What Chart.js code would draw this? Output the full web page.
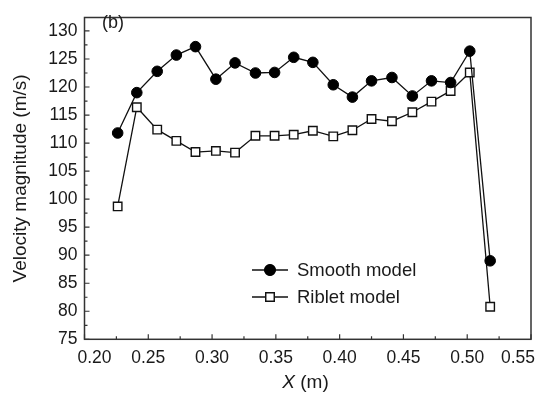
<!DOCTYPE html>
<html>
<head>
<meta charset="utf-8">
<script src="https://cdn.jsdelivr.net/npm/chart.js@4.4.1/dist/chart.umd.min.js"></script>
<style>
  html, body { margin: 0; padding: 0; background: #fff; }
  #wrap { width: 543px; height: 394px; }
</style>
</head>
<body>
<div id="wrap"><canvas id="velocityChart" width="543" height="394"></canvas></div>
<script>
// Values
const xPositions = [0.226, 0.241, 0.257, 0.272, 0.287, 0.303, 0.318, 0.334, 0.349, 0.364,
                    0.379, 0.395, 0.410, 0.425, 0.441, 0.457, 0.472, 0.487, 0.502, 0.518];
const smoothModel = [111.8, 119.0, 122.8, 125.7, 127.2, 121.4, 124.3, 122.5, 122.6, 125.3,
                     124.4, 120.4, 118.2, 121.1, 121.7, 118.4, 121.1, 120.8, 126.4, 89.0];
const ribletModel = [98.7, 116.4, 112.4, 110.4, 108.4, 108.6, 108.3, 111.3, 111.3, 111.5,
                     112.2, 111.2, 112.3, 114.3, 113.9, 115.5, 117.4, 119.3, 122.6, 80.8];
const xTicks = [0.20, 0.25, 0.30, 0.35, 0.40, 0.45, 0.50, 0.55];
const xTickLabels = ["0.20", "0.25", "0.30", "0.35", "0.40", "0.45", "0.50", "0.55"];
const yTicks = [75, 80, 85, 90, 95, 100, 105, 110, 115, 120, 125, 130];

const FONT = "'Liberation Sans', Arial, sans-serif";
const INK = "#1a1a1a";

// frame, inward ticks, x labels, legend and panel tag
const framePlugin = {
    id: "frame",
    afterDraw(chart) {
        const ctx = chart.ctx;
        const a = chart.chartArea;
        const xs = chart.scales.x, ys = chart.scales.y;
        ctx.save();
        ctx.strokeStyle = "#333";
        ctx.lineWidth = 1.5;
        ctx.strokeRect(a.left, a.top, a.right - a.left, a.bottom - a.top);

        ctx.lineWidth = 1.2;
        ctx.beginPath();
        for (let v = 0.2; v <= 0.5501; v += 0.025) {
            const px = xs.getPixelForValue(v);
            const major = Math.abs(v * 20 - Math.round(v * 20)) < 1e-6;
            const len = major ? 5 : 3;
            ctx.moveTo(px, a.bottom);
            ctx.lineTo(px, a.bottom - len);
        }
        for (let v = 75; v <= ys.max; v += 2.5) {
            const py = ys.getPixelForValue(v);
            const len = v % 5 === 0 ? 5 : 3;
            ctx.moveTo(a.left, py);
            ctx.lineTo(a.left + len, py);
        }
        ctx.stroke();

        // x tick labels (end labels nudged inside like the original)
        ctx.fillStyle = INK;
        ctx.font = "17.5px " + FONT;
        ctx.textBaseline = "middle";
        ctx.textAlign = "center";
        xTicks.forEach((v, i) => {
            let px = xs.getPixelForValue(v);
            if (i === 0) px += 10;
            if (i === xTicks.length - 1) px -= 13;
            ctx.fillText(xTickLabels[i], px, 358);
        });

        // x axis title with italic X
        ctx.font = "italic 19px " + FONT;
        const wX = ctx.measureText("X").width;
        ctx.font = "19px " + FONT;
        const wRest = ctx.measureText(" (m)").width;
        const start = 305.5 - (wX + wRest) / 2;
        ctx.textAlign = "left";
        ctx.font = "italic 19px " + FONT;
        ctx.fillText("X", start, 383);
        ctx.font = "19px " + FONT;
        ctx.fillText(" (m)", start + wX, 383);

        // panel tag
        ctx.font = "18px " + FONT;
        ctx.fillText("(b)", 102, 23);

        // legend
        const rows = [270, 297];
        chart.data.datasets.forEach((ds, i) => {
            const y = rows[i];
            ctx.strokeStyle = ds.borderColor;
            ctx.lineWidth = ds.borderWidth;
            ctx.beginPath();
            ctx.moveTo(252, y);
            ctx.lineTo(288, y);
            ctx.stroke();
            Chart.helpers.drawPoint(ctx, {
                pointStyle: ds.pointStyle,
                radius: ds.pointRadius,
                borderWidth: ds.pointBorderWidth,
                rotation: 0
            }, 270, y);
            ctx.fillStyle = ds.pointBackgroundColor;
            ctx.fill();
            ctx.strokeStyle = ds.pointBorderColor;
            ctx.lineWidth = ds.pointBorderWidth;
            ctx.stroke();
            ctx.fillStyle = INK;
            ctx.font = "18.5px " + FONT;
            ctx.fillText(ds.label, 297, y + 1);
        });
        ctx.restore();
    }
};

const ctx = document.getElementById("velocityChart").getContext("2d");

new Chart(ctx, {
    type: "line",
    data: {
        datasets: [
            {
                label: "Smooth model",
                data: xPositions.map((x, i) => ({ x: x, y: smoothModel[i] })),
                borderColor: "#111",
                borderWidth: 1.3,
                pointStyle: "circle",
                pointRadius: 5.3,
                pointBorderWidth: 1,
                pointBackgroundColor: "#000",
                pointBorderColor: "#000",
                tension: 0,
                fill: false
            },
            {
                label: "Riblet model",
                data: xPositions.map((x, i) => ({ x: x, y: ribletModel[i] })),
                borderColor: "#111",
                borderWidth: 1.3,
                pointStyle: "rect",
                pointRadius: 6,
                pointBorderWidth: 1.4,
                pointBackgroundColor: "#fff",
                pointBorderColor: "#111",
                tension: 0,
                fill: false
            }
        ]
    },
    options: {
        responsive: false,
        devicePixelRatio: 1,
        animation: false,
        layout: { padding: { top: 6, right: 12, left: 0, bottom: 0 } },
        plugins: {
            legend: { display: false },
            tooltip: { enabled: false }
        },
        scales: {
            x: {
                type: "linear",
                min: 0.2,
                max: 0.55,
                grid: { display: false, drawTicks: false },
                border: { display: false },
                ticks: { display: false },
                afterFit: s => { s.height = 54.7; }
            },
            y: {
                type: "linear",
                min: 75,
                max: 132.4,
                afterBuildTicks: s => { s.ticks = yTicks.map(v => ({ value: v })); },
                grid: { display: false, drawTicks: false },
                border: { display: false },
                ticks: {
                    color: INK,
                    padding: 7,
                    font: { size: 17.5, family: FONT }
                },
                title: {
                    display: true,
                    text: "Velocity magnitude (m/s)",
                    color: INK,
                    font: { size: 19, family: FONT },
                    padding: { top: 9.5, bottom: 0 }
                },
                afterFit: s => { s.width = 84.5; }
            }
        }
    },
    plugins: [framePlugin]
});
</script>
</body>
</html>
